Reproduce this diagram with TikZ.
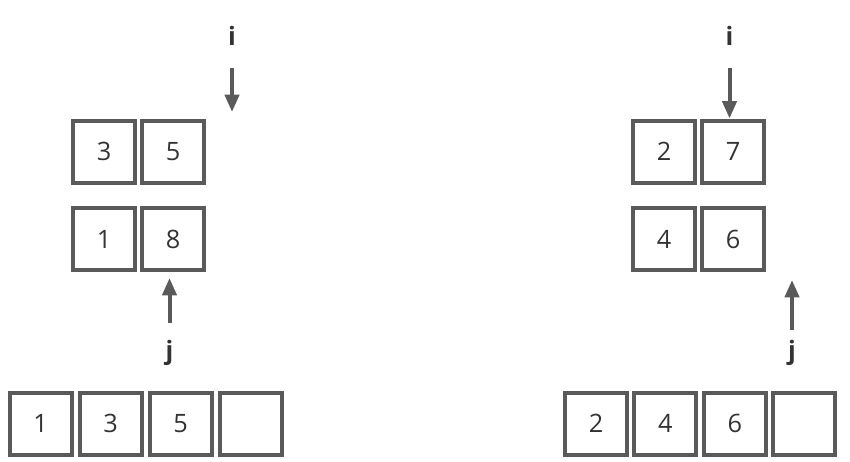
\documentclass[tikz,border=0pt]{standalone}
\usepackage{fontspec}
\setmainfont{Open Sans}
\usetikzlibrary{arrows.meta,positioning}
\definecolor{Edge}{HTML}{5A5A5A}
\definecolor{Ink}{HTML}{333333}
\tikzset{cell/.style={draw=Edge,line width=3pt,minimum size=46.5pt,inner sep=0pt,text=Ink,font=\fontsize{19}{21}\selectfont},idx/.style={anchor=base,text=Ink,font=\fontsize{19}{21}\selectfont\bfseries},ptr/.style={-{Triangle[length=13pt,width=10.5pt]},line width=3pt,draw=Edge}}

\begin{document}
\begin{tikzpicture}[x=.75pt,y=-.75pt,node distance=2.3pt]
  \useasboundingbox (0,0) rectangle (850,461);
  % left: step before the move
  \node[cell] (la1) at (104,151.5){3};
  \node[cell,right=of la1] (la2){5};
  \node[cell] (lb1) at (104,239){1};
  \node[cell,right=of lb1] (lb2){8};
  \node[cell] (lm1) at (40.5,423.5){1};
  \node[cell,right=3pt of lm1] (lm2){3};
  \node[cell,right=3pt of lm2] (lm3){5};
  \node[cell,right=3pt of lm3] (lm4){};
  \node[idx] (li) at (232,45){i};
  \node[idx] (lj) at (169.5,359){j};
  \coordinate (lit) at (232,68);
  \coordinate (lih) at (232,112);
  \coordinate (ljt) at (169.5,323);
  \draw[ptr] (lit) -- (lih);
  \draw[ptr] (ljt) -- (ljt |- lb2.south) [shorten >=4.5pt];
  % right: step after the move
  \node[cell] (ra1) at (664,151.5){2};
  \node[cell,right=of ra1] (ra2){7};
  \node[cell] (rb1) at (664,239){4};
  \node[cell,right=of rb1] (rb2){6};
  \node[cell] (rm1) at (596,423.5){2};
  \node[cell,right=2.6pt of rm1] (rm2){4};
  \node[cell,right=2.6pt of rm2] (rm3){6};
  \node[cell,right=2.6pt of rm3] (rm4){};
  \node[idx] (ri) at (729.5,45){i};
  \node[idx] (rj) at (792,359){j};
  \coordinate (rit) at (729.5,68);
  \coordinate (rjt) at (792,330);
  \coordinate (rjh) at (792,280);
  \draw[ptr] (rit) -- (rit |- ra2.north);
  \draw[ptr] (rjt) -- (rjh);
\end{tikzpicture}
\end{document}
